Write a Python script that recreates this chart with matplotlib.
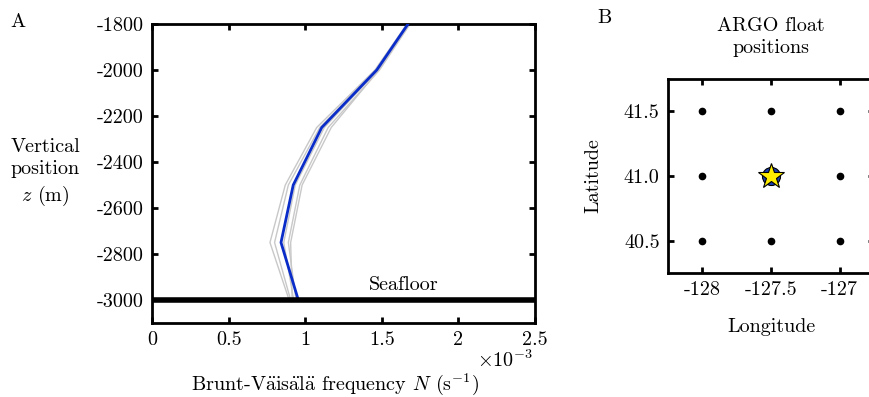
import matplotlib
matplotlib.use('Agg')
import matplotlib.pyplot as plt

# ---- data ----
depth = [-1800, -2000, -2250, -2500, -2750, -3000]
N_mean = [1.671e-3, 1.467e-3, 1.108e-3, 0.922e-3, 0.842e-3, 0.955e-3]
N_float1 = [1.665e-3, 1.455e-3, 1.075e-3, 0.870e-3, 0.770e-3, 0.895e-3]
N_float2 = [1.675e-3, 1.465e-3, 1.095e-3, 0.890e-3, 0.800e-3, 0.905e-3]
N_float3 = [1.670e-3, 1.475e-3, 1.125e-3, 0.935e-3, 0.860e-3, 0.925e-3]
N_float4 = [1.685e-3, 1.485e-3, 1.150e-3, 0.965e-3, 0.890e-3, 0.940e-3]
N_float5 = [1.680e-3, 1.480e-3, 1.170e-3, 0.980e-3, 0.905e-3, 0.915e-3]
seafloor_z = -3000

x_ticks = [0, 0.5e-3, 1.0e-3, 1.5e-3, 2.0e-3, 2.5e-3]
x_tick_labels = ['0', '0.5', '1', '1.5', '2', '2.5']
y_ticks = [-1800, -2000, -2200, -2400, -2600, -2800, -3000]
y_tick_labels = ['-1800', '-2000', '-2200', '-2400', '-2600', '-2800', '-3000']

float_lon = [-128, -127.5, -127, -128, -127, -128, -127.5, -127]
float_lat = [41.5, 41.5, 41.5, 41.0, 41.0, 40.5, 40.5, 40.5]
center_lon = [-127.5]
center_lat = [41.0]
lon_ticks = [-128, -127.5, -127]
lon_tick_labels = ['-128', '-127.5', '-127']
lat_ticks = [40.5, 41.0, 41.5]
lat_tick_labels = ['40.5', '41.0', '41.5']

# ---- style ----
plt.rcParams['font.family'] = ['cmr10', 'DejaVu Serif']
plt.rcParams['mathtext.fontset'] = 'cm'
plt.rcParams['axes.formatter.use_mathtext'] = True
FS = 14.5

W, H = 870, 397
fig = plt.figure(figsize=(W / 100, H / 100), dpi=100)


def box(l, t, r, b):
    return [l / W, 1 - b / H, (r - l) / W, (b - t) / H]


def style(ax):
    for s in ax.spines.values():
        s.set_linewidth(2.0)
    ax.tick_params(direction='in', length=4, width=2.0, top=True, right=True,
                   labelsize=FS, pad=6)


# ---- panel A ----
axA = fig.add_axes(box(152, 24, 535, 323))
style(axA)
for prof in [N_float1, N_float2, N_float3, N_float4, N_float5]:
    axA.plot(prof, depth, color='#c8c8c8', lw=1.0, zorder=2)
axA.plot(N_mean, depth, color='#0a2cc8', lw=2.0, zorder=3)
axA.axhline(seafloor_z, color='black', lw=4.0, zorder=4)
axA.text(1.64e-3, seafloor_z + 25, 'Seafloor', fontsize=FS, ha='center', va='bottom')
axA.set_xlim(0, 2.5e-3)
axA.set_ylim(-3100, -1800)
axA.set_xticks(x_ticks)
axA.set_xticklabels(x_tick_labels)
axA.set_yticks(y_ticks)
axA.set_yticklabels(y_tick_labels)
fig.text(533 / W, 1 - 360 / H, r'$\times10^{-3}$', fontsize=FS,
         ha='right', va='center')
fig.text(335 / W, 1 - 384 / H,
         r'Brunt-V$\ddot{\mathrm{a}}$is$\ddot{\mathrm{a}}$l$\ddot{\mathrm{a}}$ frequency $N$ (s$^{-1}$)',
         fontsize=FS, ha='center', va='center')
fig.text(45 / W, 1 - 173 / H, 'Vertical\nposition\n$z$ (m)', fontsize=FS,
         ha='center', va='center', linespacing=1.3)
fig.text(10 / W, 1 - 22 / H, 'A', fontsize=FS, ha='left', va='center')

# ---- panel B ----
axB = fig.add_axes(box(668, 79, 874, 273))
style(axB)
axB.plot(float_lon, float_lat, 'o', color='black', ms=4.5, zorder=3)
axB.plot(center_lon, center_lat, 'o', mfc='#1a3fb0', mec='black', mew=0.8, ms=13, zorder=4)
axB.plot(center_lon, center_lat, '*', mfc='#ffee00', mec='black', mew=0.8, ms=19, zorder=5)
axB.set_xlim(-128.25, -126.75)
axB.set_ylim(40.25, 41.75)
axB.set_xticks(lon_ticks)
axB.set_xticklabels(lon_tick_labels)
axB.set_yticks(lat_ticks)
axB.set_yticklabels(lat_tick_labels)
fig.text(771 / W, 1 - 327 / H, 'Longitude', fontsize=FS, ha='center', va='center')
fig.text(593 / W, 1 - 176 / H, 'Latitude', fontsize=FS, ha='center', va='center',
         rotation=90)
fig.text(771 / W, 1 - 37 / H, 'ARGO float\npositions', fontsize=FS,
         ha='center', va='center', linespacing=1.3)
fig.text(597 / W, 1 - 18 / H, 'B', fontsize=FS, ha='left', va='center')

fig.savefig('out.png', dpi=100)
